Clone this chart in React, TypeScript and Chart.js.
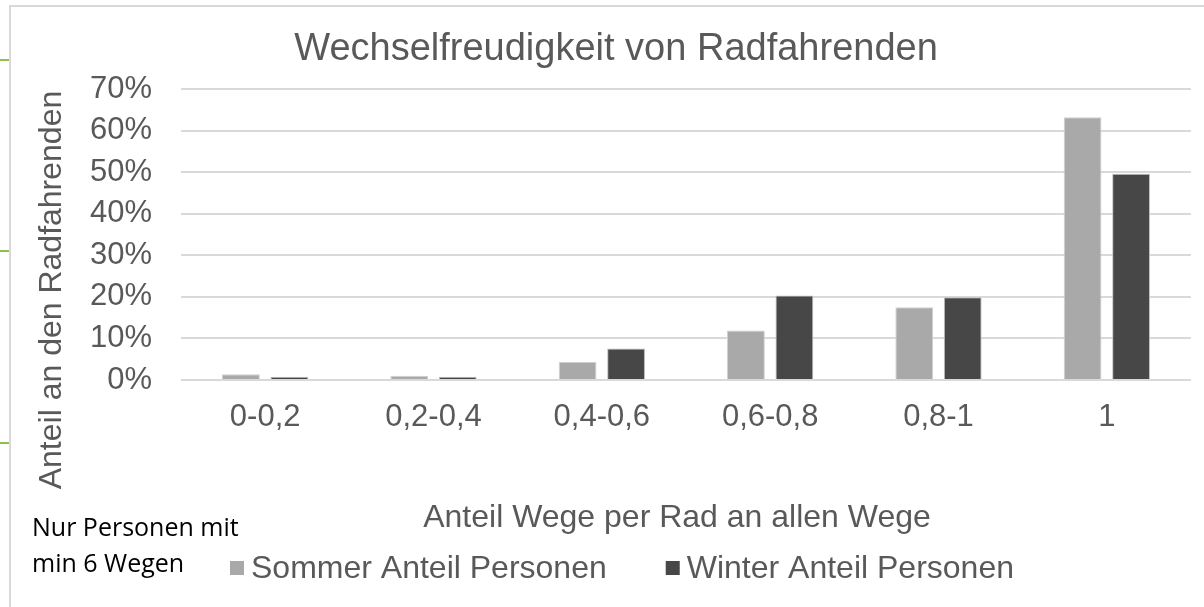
import React, { useEffect, useRef } from "react";
import { Chart, registerables } from "chart.js";

Chart.register(...registerables);

const categories = ["0-0,2", "0,2-0,4", "0,4-0,6", "0,6-0,8", "0,8-1", "1"];
const sommerValues = [1.4, 1.0, 4.3, 11.9, 17.5, 63.2];
const winterValues = [0.8, 0.8, 7.6, 20.3, 19.9, 49.6];
const seriesLabels = ["Sommer Anteil Personen", "Winter Anteil Personen"];
const seriesColors = ["#a9a9a9", "#474747"];
const yTicks = [0, 10, 20, 30, 40, 50, 60, 70];
const chartTitle = "Wechselfreudigkeit von Radfahrenden";
const xTitle = "Anteil Wege per Rad an allen Wege";
const yTitle = "Anteil an den Radfahrenden";
const noteLines = ["Nur Personen mit", "min 6 Wegen"];

const TEXT = "#595959";
const FONT = "'Liberation Sans', Arial, sans-serif";

const extrasPlugin = {
  id: "extras",
  afterDraw(chart: any) {
    const ctx = chart.ctx;
    ctx.save();
    // y-axis title
    ctx.fillStyle = TEXT;
    ctx.font = `32px ${FONT}`;
    ctx.textAlign = "center";
    ctx.textBaseline = "middle";
    ctx.translate(41, 283);
    ctx.rotate(-Math.PI / 2);
    ctx.fillText(yTitle, 0, 0);
    ctx.restore();

    // x-axis title
    ctx.save();
    ctx.fillStyle = TEXT;
    ctx.font = `32px ${FONT}`;
    ctx.textAlign = "center";
    ctx.textBaseline = "middle";
    ctx.fillText(xTitle, 666, 511);
    ctx.restore();

    // legend
    ctx.save();
    ctx.font = `32px ${FONT}`;
    ctx.textBaseline = "middle";
    ctx.textAlign = "left";
    const ds = chart.data.datasets;
    const box = 14, gap = 7, itemGap = 59;
    const widths = ds.map((d: any) => ctx.measureText(d.label).width);
    let total = 0;
    widths.forEach((w: number, i: number) => {
      total += box + gap + w + (i < widths.length - 1 ? itemGap : 0);
    });
    let x = 611 - total / 2;
    const y = 561;
    ds.forEach((d: any, i: number) => {
      ctx.fillStyle = d.backgroundColor;
      ctx.fillRect(x, y - box / 2, box, box);
      x += box + gap;
      ctx.fillStyle = TEXT;
      ctx.fillText(d.label, x, y + 1);
      x += widths[i] + itemGap;
    });
    ctx.restore();

    // note
    ctx.save();
    ctx.font = `25px 'Open Sans', sans-serif`;
    ctx.fillStyle = "#000000";
    ctx.textAlign = "left";
    ctx.textBaseline = "alphabetic";
    ctx.fillText(noteLines[0], 21, 529);
    ctx.fillText(noteLines[1], 21, 565);
    ctx.restore();
  },
};

export default function App() {
  const canvasRef = useRef<HTMLCanvasElement | null>(null);

  useEffect(() => {
    const canvas = canvasRef.current;
    if (!canvas) return;
    const chart = new Chart(canvas, {
      type: "bar",
      data: {
        labels: categories,
        datasets: [
          {
            label: seriesLabels[0],
            data: sommerValues,
            backgroundColor: seriesColors[0],
            borderColor: "#d0d0d0",
            borderWidth: 1,
            categoryPercentage: 0.576,
            barPercentage: 0.78,
          },
          {
            label: seriesLabels[1],
            data: winterValues,
            backgroundColor: seriesColors[1],
            borderColor: "#bdbdbd",
            borderWidth: 1,
            categoryPercentage: 0.576,
            barPercentage: 0.78,
          },
        ],
      },
      options: {
        responsive: false,
        animation: false,
        devicePixelRatio: 1,
        layout: { padding: { left: 30, right: 13, top: 0, bottom: 0 } },
        plugins: {
          legend: { display: false },
          tooltip: { enabled: false },
          title: {
            display: true,
            text: chartTitle,
            color: TEXT,
            font: { family: FONT, size: 38, weight: "normal", lineHeight: 1.2 },
            padding: { top: 20.2, bottom: 16.2 },
          },
        },
        scales: {
          x: {
            grid: { display: false, drawTicks: false },
            border: { display: false },
            ticks: {
              color: TEXT,
              font: { family: FONT, size: 31, lineHeight: 1.2 },
              padding: 18.4,
              maxRotation: 0,
              autoSkip: false,
            },
            afterFit(scale: any) {
              scale.height = 227;
            },
          },
          y: {
            min: 0,
            max: 70,
            afterBuildTicks(scale: any) {
              scale.ticks = yTicks.map((v) => ({ value: v }));
            },
            grid: { color: "#d9d9d9", lineWidth: 2, drawTicks: false },
            border: { display: false },
            ticks: {
              color: TEXT,
              font: { family: FONT, size: 31, lineHeight: 1.2 },
              padding: 29,
              callback: (v: any) => `${v}%`,
            },
            afterFit(scale: any) {
              scale.width = 140;
            },
          },
        },
      },
      plugins: [extrasPlugin],
    });
    return () => chart.destroy();
  }, []);

  const tick = (top: number) => (
    <div
      style={{
        position: "absolute",
        left: 0,
        top,
        width: 9,
        height: 2,
        background: "#92c050",
      }}
    />
  );

  return (
    <div
      style={{
        position: "fixed",
        left: 0,
        top: 0,
        width: 1204,
        height: 607,
        background: "#ffffff",
        overflow: "hidden",
      }}
    >
      <div
        style={{
          position: "absolute",
          left: 9,
          top: 5,
          width: 1300,
          height: 700,
          borderLeft: "2px solid #d9d9d9",
          borderTop: "2px solid #d9d9d9",
        }}
      />
      {tick(59)}
      {tick(250)}
      {tick(442)}
      <canvas
        ref={canvasRef}
        width={1193}
        height={600}
        style={{ position: "absolute", left: 11, top: 7, width: 1193, height: 600 }}
      />
    </div>
  );
}
